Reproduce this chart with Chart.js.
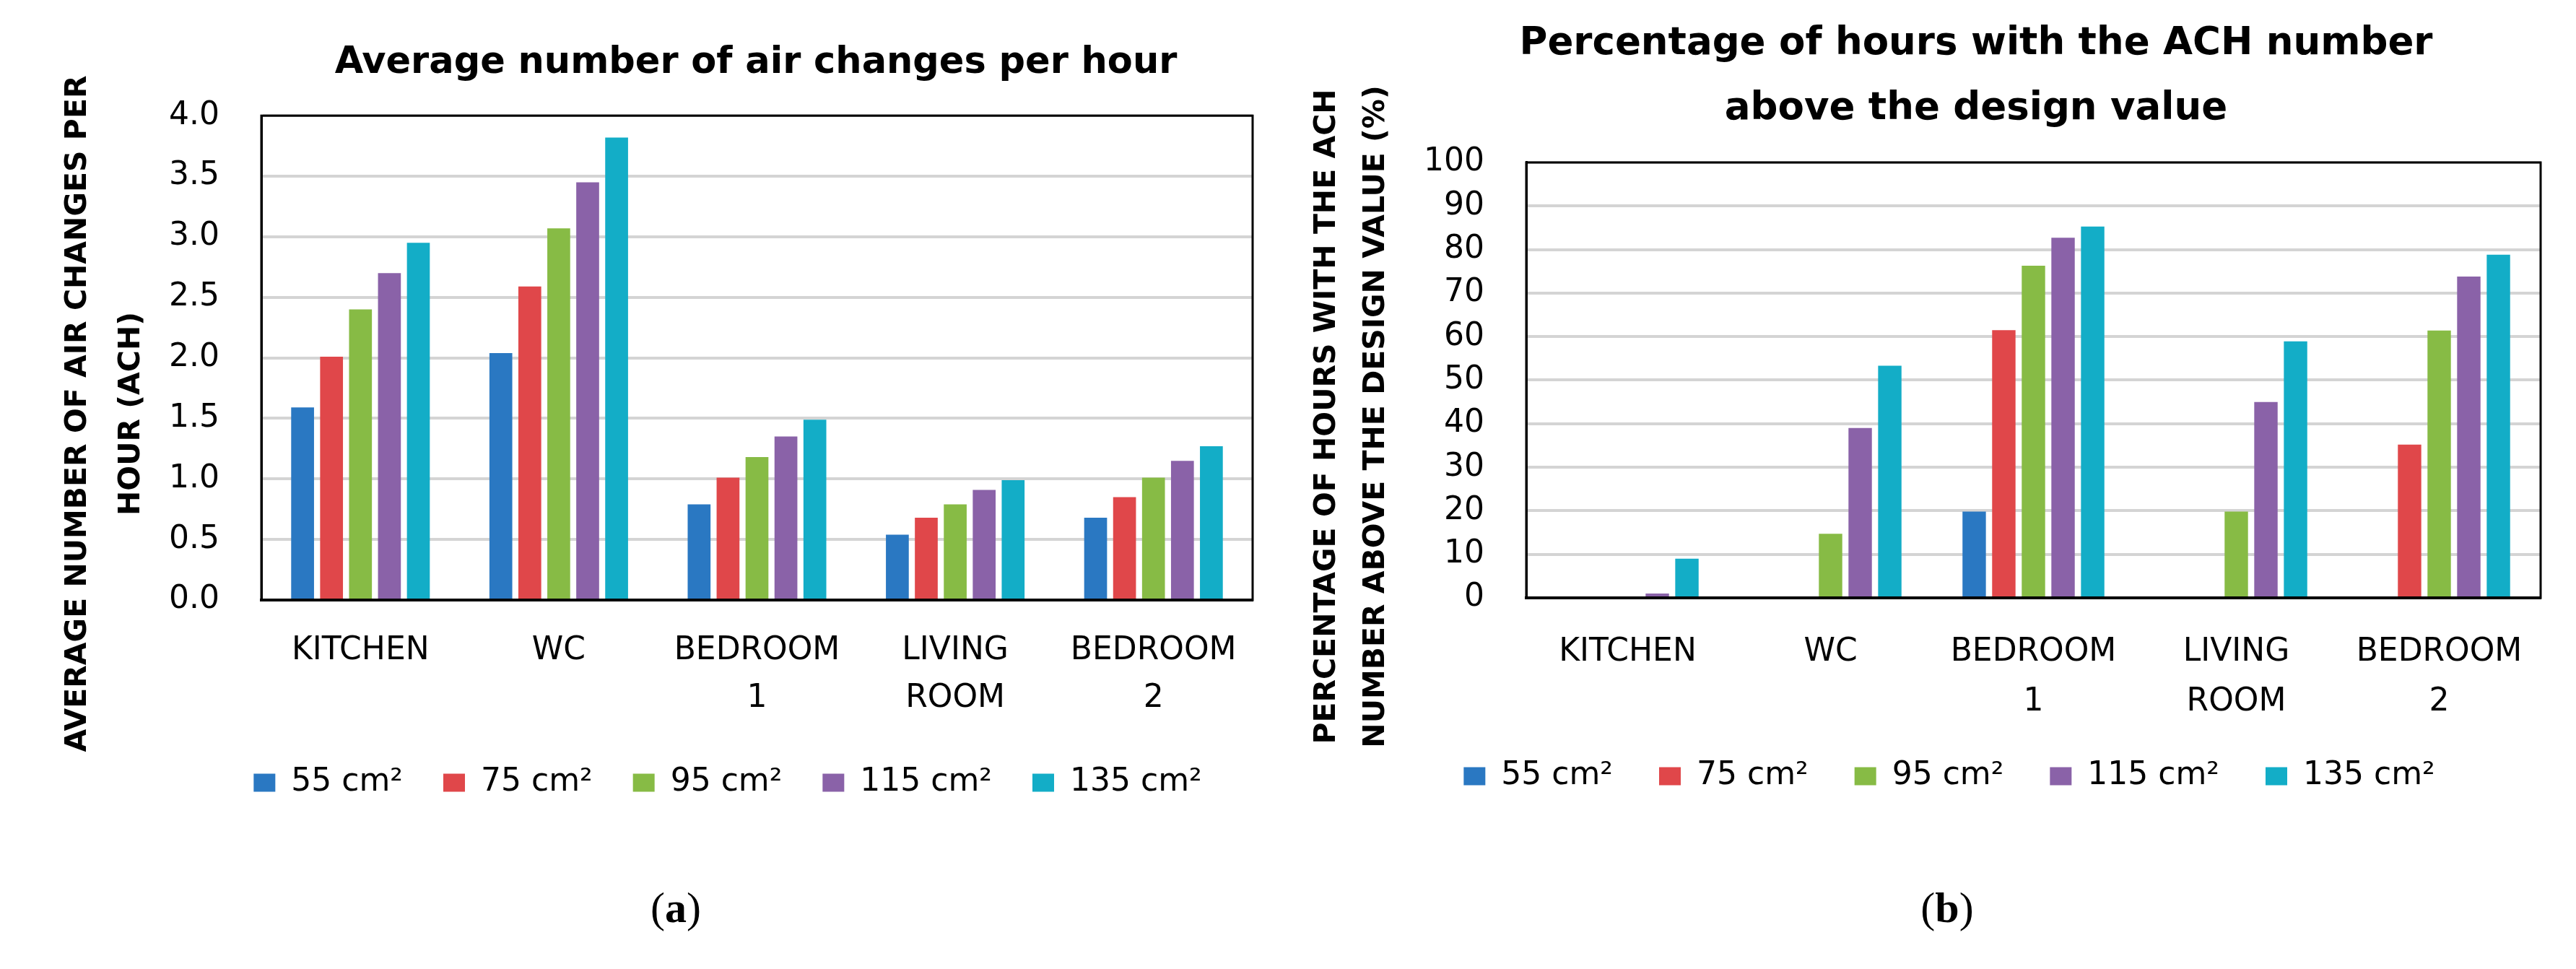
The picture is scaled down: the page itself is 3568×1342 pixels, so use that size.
<!DOCTYPE html>
<html>
<head>
<meta charset="utf-8">
<script src="https://cdn.jsdelivr.net/npm/chart.js@4.4.1/dist/chart.umd.min.js"></script>
<style>
    body { margin: 0; background: #fff; }
    #page { position: relative; width: 3568px; height: 1342px; overflow: hidden; }
    canvas { position: absolute; top: 0; }
    .caption { position: absolute; top: 1217px; width: 200px; text-align: center; font: 60px 'Liberation Serif', serif; line-height: 80px; color: #000; }
</style>
</head>
<body>
<div id="page">
    <canvas id="chart-ach" width="1784" height="1160" style="left:0"></canvas>
    <canvas id="chart-pct" width="1784" height="1160" style="left:1784px"></canvas>
    <div class="caption" style="left:836px">(<b>a</b>)</div>
    <div class="caption" style="left:2597px">(<b>b</b>)</div>
</div>
<script>
const rooms = [['KITCHEN'], ['WC'], ['BEDROOM', '1'], ['LIVING', 'ROOM'], ['BEDROOM', '2']];
const areas = ['55 cm²', '75 cm²', '95 cm²', '115 cm²', '135 cm²'];

// average air changes per hour, one array per vent area
const ach55 = [1.59, 2.04, 0.79, 0.54, 0.68];
const ach75 = [2.01, 2.59, 1.01, 0.68, 0.85];
const ach95 = [2.40, 3.07, 1.18, 0.79, 1.01];
const ach115 = [2.70, 3.45, 1.35, 0.91, 1.15];
const ach135 = [2.95, 3.82, 1.49, 0.99, 1.27];

// % of hours above the design value
const pct55 = [0, 0, 19.8, 0, 0];
const pct75 = [0, 0, 61.5, 0, 35.2];
const pct95 = [0, 14.7, 76.3, 19.8, 61.4];
const pct115 = [1.0, 39.0, 82.7, 45.0, 73.8];
const pct135 = [9.0, 53.3, 85.3, 58.9, 78.8];

const colors = ['#2a78c2', '#e0474a', '#87bb45', '#8a62a8', '#13adc7'];
const FONT = "'DejaVu Sans', sans-serif";

Chart.defaults.font.family = FONT;
Chart.defaults.color = '#000';

// black box round the plot area
const frame = {
    id: 'frame',
    afterDraw(chart) {
        const { ctx, chartArea: a } = chart;
        ctx.save();
        ctx.strokeStyle = '#000';
        ctx.lineWidth = 3;
        ctx.strokeRect(a.left, a.top, a.right - a.left, a.bottom - a.top);
        ctx.restore();
    }
};

// recentre title and legend where the original had them
const boxShift = {
    id: 'boxShift',
    afterLayout(chart, args, opts) {
        [[chart.titleBlock, opts.title], [chart.legend, opts.legend]].forEach(([box, center]) => {
            if (!box || center == null) return;
            const w = box.right - box.left;
            box.left = center - w / 2;
            box.right = center + w / 2;
        });
    }
};

// two-line rotated y axis title
const sideTitle = {
    id: 'sideTitle',
    afterDraw(chart, args, opts) {
        const ctx = chart.ctx;
        ctx.save();
        ctx.font = opts.font;
        ctx.fillStyle = '#000';
        ctx.textAlign = 'center';
        ctx.textBaseline = 'middle';
        opts.lines.forEach((line, i) => {
            ctx.save();
            ctx.translate(opts.x[i], opts.y);
            ctx.rotate(-Math.PI / 2);
            ctx.fillText(line, 0, 0);
            ctx.restore();
        });
        ctx.restore();
    }
};

function makeDatasets(series) {
    return series.map((data, i) => ({
        label: areas[i],
        data: data,
        backgroundColor: colors[i],
        categoryPercentage: 0.73,
        barPercentage: 0.79
    }));
}

function makeChart(id, s) {
    return new Chart(document.getElementById(id), {
        type: 'bar',
        data: { labels: rooms, datasets: makeDatasets(s.series) },
        options: {
            responsive: false,
            animation: false,
            layout: { padding: { left: 0, right: 49, top: 0, bottom: s.padBottom } },
            scales: {
                x: {
                    grid: { display: false, drawTicks: false },
                    border: { color: '#000', width: 4 },
                    ticks: { font: { size: 44, lineHeight: s.xLine }, padding: s.xPad, autoSkip: false, maxRotation: 0 },
                    afterFit: scale => { scale.height = s.xHeight; }
                },
                y: {
                    min: 0,
                    max: s.max,
                    grid: { color: '#d4d4d4', lineWidth: 4, drawTicks: false },
                    border: { color: '#000', width: 3 },
                    ticks: { stepSize: s.step, font: { size: 44 }, padding: 58, callback: s.fmt },
                    afterFit: scale => { scale.width = s.yWidth; }
                }
            },
            plugins: {
                title: {
                    display: true,
                    text: s.title,
                    font: { size: s.titleSize, weight: 'bold', lineHeight: s.titleLine },
                    padding: s.titlePad
                },
                boxShift: { title: s.titleCenter, legend: s.legendCenter },
                legend: {
                    position: 'bottom',
                    labels: { boxWidth: 30, boxHeight: 25, padding: s.legendPad, font: { size: 44 } }
                },
                tooltip: { enabled: false },
                sideTitle: { lines: s.yTitle, x: s.yTitleX, y: s.yTitleY, font: `bold 41px ${FONT}` }
            }
        },
        plugins: [frame, boxShift, sideTitle]
    });
}

makeChart('chart-ach', {
    series: [ach55, ach75, ach95, ach115, ach135],
    max: 4, step: 0.5, fmt: v => v.toFixed(1),
    padBottom: 44, yWidth: 362,
    xHeight: 175, xPad: 38, xLine: 1.5,
    title: 'Average number of air changes per hour',
    titleSize: 51, titleLine: 1.2, titlePad: { top: 57, bottom: 42 }, titleCenter: 1047,
    legendPad: 56, legendCenter: 1008,
    yTitle: ['AVERAGE NUMBER OF AIR CHANGES PER', 'HOUR (ACH)'], yTitleX: [108, 182], yTitleY: 573
});

makeChart('chart-pct', {
    series: [pct55, pct75, pct95, pct115, pct135],
    max: 100, step: 10, fmt: v => v,
    padBottom: 53, yWidth: 330,
    xHeight: 161, xPad: 41, xLine: 1.57,
    title: ['Percentage of hours with the ACH number', 'above the design value'],
    titleSize: 53, titleLine: 1.698, titlePad: { top: 16, bottom: 29 }, titleCenter: 953,
    legendPad: 64, legendCenter: 916,
    yTitle: ['PERCENTAGE OF HOURS WITH THE ACH', 'NUMBER ABOVE THE DESIGN VALUE (%)'], yTitleX: [54, 122], yTitleY: 577
});
</script>
</body>
</html>
